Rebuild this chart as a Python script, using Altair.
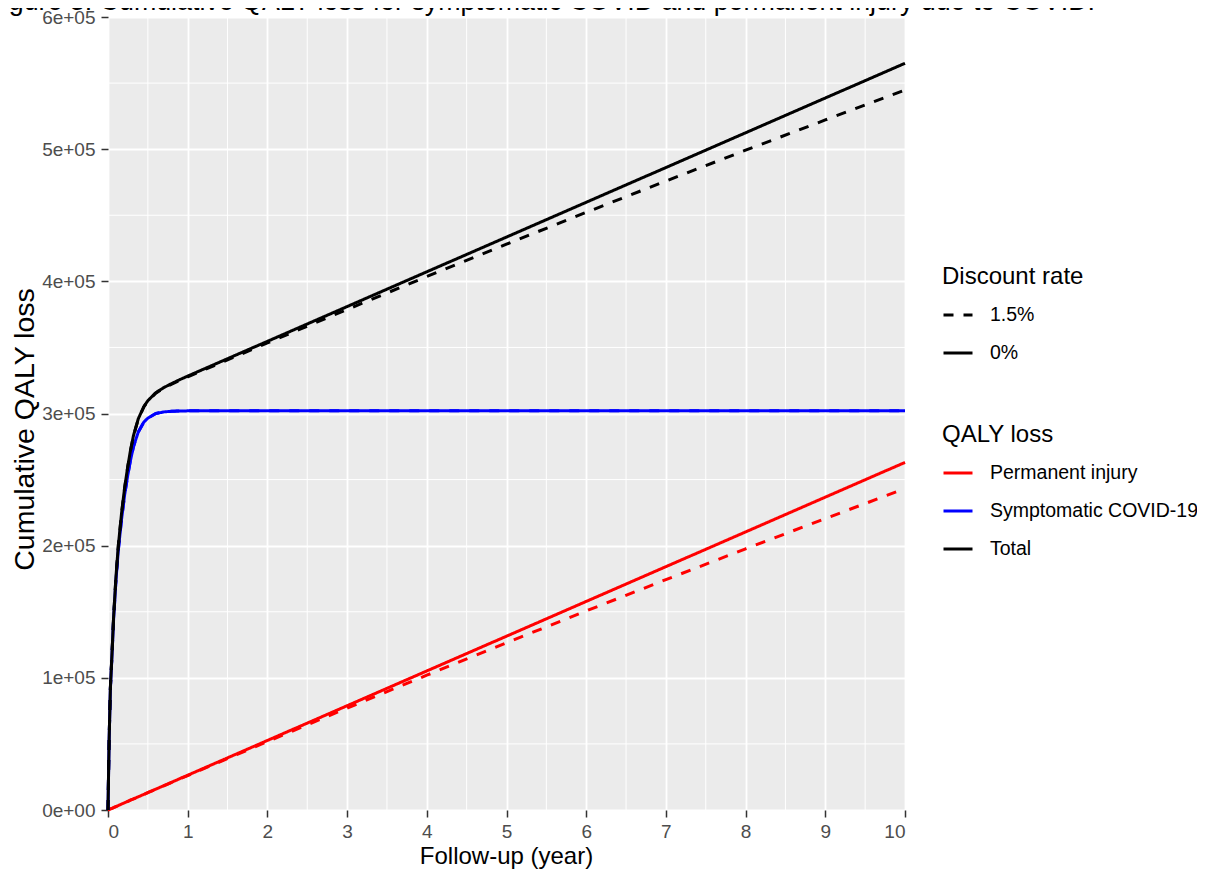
import altair as alt
import pandas as pd

# ---------------- data ----------------
t_years = [0, 0.005, 0.015, 0.03, 0.05, 0.07, 0.1, 0.13, 0.17, 0.21, 0.25, 0.28, 0.32,
           0.38, 0.45, 0.5, 0.6, 0.7, 0.8, 0.9, 1, 2, 3, 4, 5, 6, 7, 8, 9, 10]

permanent_0 = [0, 130, 400, 800, 1300, 1800, 2600, 3400, 4500, 5500, 6600, 7400, 8400,
               10000, 11800, 13200, 15800, 18400, 21000, 23700, 26300, 52600, 78900,
               105200, 131500, 157800, 184100, 210400, 236700, 263000]
permanent_15 = [0, 130, 400, 800, 1300, 1800, 2600, 3400, 4500, 5500, 6600, 7400, 8400,
                10000, 11800, 13100, 15700, 18300, 20900, 23500, 26100, 51800, 77100,
                102000, 126500, 150600, 174300, 197600, 220500, 243200]
symptomatic_0 = [0, 20000, 55000, 92000, 117000, 144000, 174000, 197000, 220000, 239000,
                 254000, 264000, 275000, 286000, 293500, 296500, 300000, 301200, 301700,
                 301900, 302000, 302000, 302000, 302000, 302000, 302000, 302000, 302000,
                 302000, 302000]
symptomatic_15 = [0, 20000, 55000, 92000, 117000, 144000, 174000, 197000, 220000, 239000,
                  254000, 264000, 275000, 286000, 293500, 296500, 300000, 301200, 301700,
                  301900, 302000, 302000, 302000, 302000, 302000, 302000, 302000, 302000,
                  302000, 302000]
total_0 = [0, 20100, 55400, 92800, 118300, 145800, 176600, 200400, 224500, 244500, 260600,
           271400, 283400, 296000, 305300, 309700, 315800, 319600, 322700, 325600, 328300,
           354600, 380900, 407200, 433500, 459800, 486100, 512400, 538700, 565000]
total_15 = [0, 20100, 55400, 92800, 118300, 145800, 176600, 200300, 224400, 244300, 260400,
            271200, 283200, 295700, 305000, 309300, 315400, 319100, 322200, 325000, 327700,
            353400, 378700, 403600, 428100, 452200, 475900, 499200, 522100, 544800]

series_names = ["Permanent injury", "Symptomatic COVID-19", "Total"]
series_colors = ["#FF0000", "#0000FF", "#000000"]
rate_names = ["1.5%", "0%"]

x_ticks = [0, 1, 2, 3, 4, 5, 6, 7, 8, 9, 10]
x_minor = [0.5, 1.5, 2.5, 3.5, 4.5, 5.5, 6.5, 7.5, 8.5, 9.5]
y_ticks = [0, 100000, 200000, 300000, 400000, 500000, 600000]
y_tick_labels = ["0e+00", "1e+05", "2e+05", "3e+05", "4e+05", "5e+05", "6e+05"]
y_minor = [50000, 150000, 250000, 350000, 450000, 550000]

title_text = "Figure 3. Cumulative QALY loss for symptomatic COVID and permanent injury due to COVID."

# ---------------- long table ----------------
rows = []
for name, rate, vals in [
    ("Permanent injury", "1.5%", permanent_15),
    ("Permanent injury", "0%", permanent_0),
    ("Symptomatic COVID-19", "1.5%", symptomatic_15),
    ("Symptomatic COVID-19", "0%", symptomatic_0),
    ("Total", "1.5%", total_15),
    ("Total", "0%", total_0),
]:
    for t, v in zip(t_years, vals):
        rows.append({"t": t, "v": v, "series": name, "rate": rate})
df = pd.DataFrame(rows)

FONT = "Liberation Sans"
x_scale = alt.Scale(domain=[0, 10], nice=False, zero=False)
y_scale = alt.Scale(domain=[0, 600000], nice=False)

label_expr = "[" + ",".join("'%s'" % s for s in y_tick_labels) + "][round(datum.value/100000)]"

x_axis = alt.Axis(values=x_ticks, title="Follow-up (year)", grid=True, labelPadding=5,
                  titleFontSize=24, titleX=398, titleY=46, titleBaseline="middle")
y_axis = alt.Axis(values=y_ticks, title="Cumulative QALY loss", grid=True, labelPadding=6,
                  labelExpr=label_expr, titleFontSize=28.5, titleX=-83.5, titleY=412,
                  titleAngle=270, titleBaseline="middle", titleAlign="center")

vgrid = alt.Chart(pd.DataFrame({"t": x_minor})).mark_rule(color="white", strokeWidth=1).encode(
    x=alt.X("t:Q", scale=x_scale, axis=x_axis)
)
hgrid = alt.Chart(pd.DataFrame({"v": y_minor})).mark_rule(color="white", strokeWidth=1).encode(
    y=alt.Y("v:Q", scale=y_scale, axis=y_axis)
)

lines = alt.Chart(df).mark_line(strokeWidth=3).encode(
    x=alt.X("t:Q", scale=x_scale, axis=x_axis),
    y=alt.Y("v:Q", scale=y_scale, axis=y_axis),
    color=alt.Color("series:N", scale=alt.Scale(domain=series_names, range=series_colors),
                    legend=alt.Legend(title="QALY loss", orient="none", legendX=834, legendY=406)),
    strokeDash=alt.StrokeDash("rate:N", scale=alt.Scale(domain=rate_names, range=[[10, 10], [1, 0]]),
                              legend=alt.Legend(title="Discount rate", orient="none", legendX=834,
                                                legendY=248, symbolStrokeColor="black")),
)

title = alt.Chart(pd.DataFrame({"title": [title_text]})).mark_text(
    align="right", baseline="alphabetic", font=FONT, fontSize=26.8, color="black"
).encode(x=alt.value(987), y=alt.value(-7), text="title:N")

chart = alt.layer(vgrid, hgrid, lines, title).properties(
    width=797, height=793,
    padding={"left": 100, "top": 9, "right": 292, "bottom": 60},
    autosize=alt.AutoSizeParams(type="none"),
    background="white",
).configure_view(
    fill="#EBEBEB", stroke="transparent"
).configure_axis(
    domain=False, tickColor="#333333", tickWidth=1.5, tickSize=7,
    labelColor="#4D4D4D", labelFont=FONT, labelFontSize=19,
    titleFont=FONT, titleColor="black", titleFontWeight="normal",
    gridColor="white", gridWidth=1.8,
).configure_legend(
    titleFont=FONT, titleFontSize=24, titleFontWeight="normal", titleColor="black",
    labelFont=FONT, labelFontSize=19.5, labelColor="black", labelLimit=400,
    symbolType="stroke", symbolStrokeWidth=3, symbolSize=841,
    labelOffset=16, rowPadding=12, titlePadding=10, padding=0,
)

chart.save("out.html", embed_options={"renderer": "svg", "actions": False})
